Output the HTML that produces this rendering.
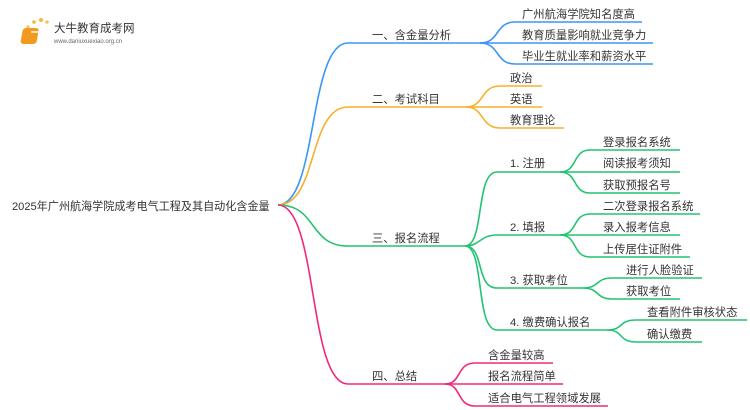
<!DOCTYPE html>
<html><head><meta charset="utf-8"><style>
body{margin:0;background:#fff;width:750px;height:410px;overflow:hidden}
svg{display:block}
text{font-family:"Liberation Sans","Noto Sans CJK SC",sans-serif;font-size:11.3px;fill:#333}
path{fill:none;stroke-width:1.6}
</style></head><body>
<svg width="750" height="410" viewBox="0 0 750 410" xmlns="http://www.w3.org/2000/svg">
<!-- logo -->
<g>
<circle cx="24" cy="34" r="1.5" fill="#f7c35a"/><circle cx="28" cy="27" r="1.7" fill="#f7c35a"/>
<circle cx="34" cy="22" r="1.8" fill="#f5b73b"/><circle cx="41" cy="20" r="2" fill="#f5b73b"/>
<circle cx="47" cy="22" r="1.8" fill="#f7c35a"/><circle cx="22" cy="41" r="1.3" fill="#f7c35a"/>
<rect x="28" y="28" width="16" height="16" rx="3" fill="#f29a1f" transform="skewX(-10)"/>
<rect x="31" y="31" width="10" height="2" fill="#fff" opacity=".7"/>
<text x="54" y="32" style="font-size:11.5px;fill:#333">大牛教育成考网</text>
<text x="54" y="43" style="font-size:6px;fill:#666">www.daniuxuexiao.org.cn</text>
</g>
<text x="12" y="210" style="font-size:11.1px">2025年广州航海学院成考电气工程及其自动化含金量</text>
<!-- branch 1 blue -->
<g stroke="#3a96f5">
<path d="M278 205 C318 205 308 43 348 43 H480"/>
<path d="M480 43 C500 43 495 22 515 22 H642"/>
<path d="M480 43 H653"/>
<path d="M480 43 C500 43 495 64 515 64 H653"/>
</g>
<text x="372" y="39">一、含金量分析</text>
<text x="522" y="18">广州航海学院知名度高</text>
<text x="522" y="39">教育质量影响就业竞争力</text>
<text x="522" y="60">毕业生就业率和薪资水平</text>
<!-- branch 2 orange -->
<g stroke="#f5b12a">
<path d="M278 205 C318 205 308 107 348 107 H466"/>
<path d="M466 107 C485 107 480 86 500 86 H542"/>
<path d="M466 107 H542"/>
<path d="M466 107 C485 107 480 128 500 128 H564"/>
</g>
<text x="372" y="103">二、考试科目</text>
<text x="510" y="82">政治</text>
<text x="510" y="103">英语</text>
<text x="510" y="124">教育理论</text>
<!-- branch 3 green -->
<g stroke="#22c472">
<path d="M278 205 C318 205 308 246 348 246 H465"/>
<path d="M465 246 C485 246 475 172 497 172 H560"/>
<path d="M465 246 C480 246 480 235 497 235 H560"/>
<path d="M465 246 C485 246 475 288 497 288 H583"/>
<path d="M465 246 C485 246 475 330 497 330 H607"/>
<path d="M560 172 C578 172 572 150 590 150 H680"/>
<path d="M560 172 H680"/>
<path d="M560 172 C578 172 572 193 590 193 H680"/>
<path d="M560 235 C578 235 572 214 590 214 H700"/>
<path d="M560 235 H680"/>
<path d="M560 235 C578 235 572 257 590 257 H690"/>
<path d="M583 288 C600 288 595 278 612 278 H702"/>
<path d="M583 288 C600 288 595 299 612 299 H680"/>
<path d="M607 330 C624 330 618 320 636 320 H747"/>
<path d="M607 330 C624 330 618 342 636 342 H702"/>
</g>
<text x="372" y="242">三、报名流程</text>
<text x="510" y="167">1. 注册</text>
<text x="510" y="231">2. 填报</text>
<text x="510" y="284">3. 获取考位</text>
<text x="510" y="326">4. 缴费确认报名</text>
<text x="603" y="146">登录报名系统</text>
<text x="603" y="167">阅读报考须知</text>
<text x="603" y="189">获取预报名号</text>
<text x="603" y="210">二次登录报名系统</text>
<text x="603" y="231">录入报考信息</text>
<text x="603" y="253">上传居住证附件</text>
<text x="626" y="274">进行人脸验证</text>
<text x="626" y="295">获取考位</text>
<text x="647" y="316">查看附件审核状态</text>
<text x="647" y="338">确认缴费</text>
<!-- branch 4 pink -->
<g stroke="#f0287a">
<path d="M278 205 C318 205 308 384 348 384 H445"/>
<path d="M445 384 C462 384 456 363 475 363 H553"/>
<path d="M445 384 H563"/>
<path d="M445 384 C462 384 456 406 475 406 H608"/>
</g>
<text x="372" y="380">四、总结</text>
<text x="488" y="359">含金量较高</text>
<text x="488" y="380">报名流程简单</text>
<text x="488" y="402">适合电气工程领域发展</text>
</svg>
</body></html>
